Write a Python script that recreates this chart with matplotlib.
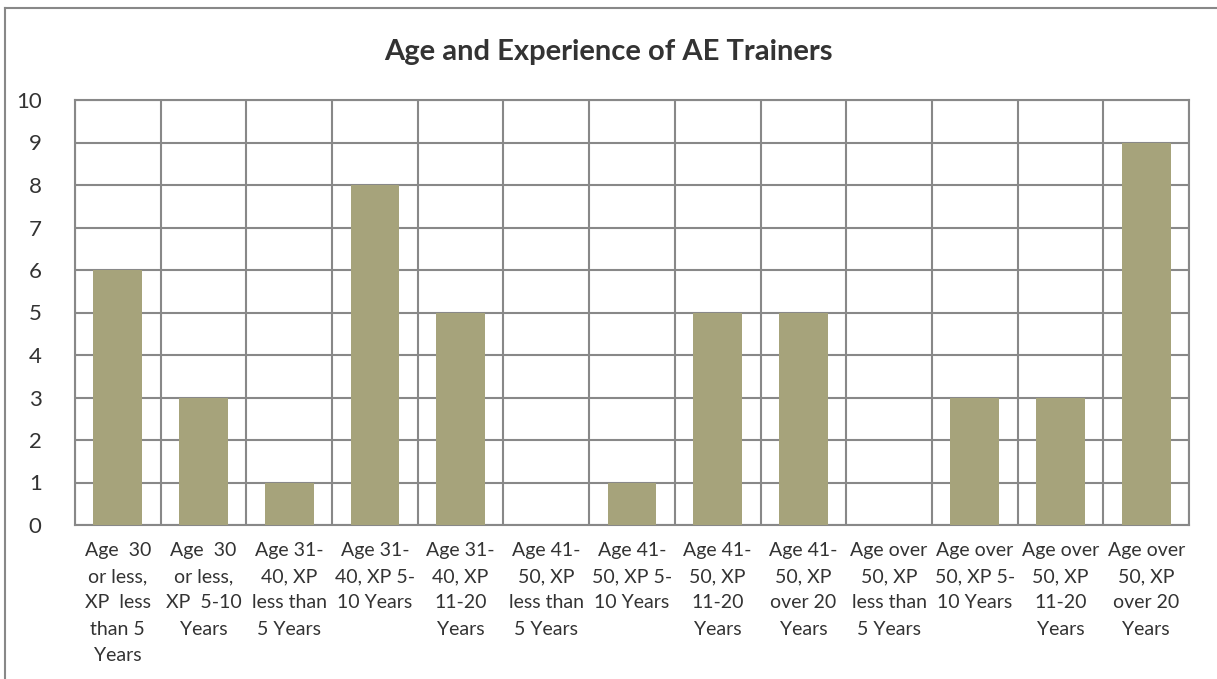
import matplotlib.pyplot as plt
from matplotlib.lines import Line2D

labels = [
    "Age  30\nor less,\nXP  less\nthan 5\nYears",
    "Age  30\nor less,\nXP  5-10\nYears",
    "Age 31-\n40, XP\nless than\n5 Years",
    "Age 31-\n40, XP 5-\n10 Years",
    "Age 31-\n40, XP\n11-20\nYears",
    "Age 41-\n50, XP\nless than\n5 Years",
    "Age 41-\n50, XP 5-\n10 Years",
    "Age 41-\n50, XP\n11-20\nYears",
    "Age 41-\n50, XP\nover 20\nYears",
    "Age over\n50, XP\nless than\n5 Years",
    "Age over\n50, XP 5-\n10 Years",
    "Age over\n50, XP\n11-20\nYears",
    "Age over\n50, XP\nover 20\nYears",
]
counts = [6, 3, 1, 8, 5, 0, 1, 5, 5, 0, 3, 3, 9]

plt.rcParams['font.family'] = ['Lato', 'DejaVu Sans']
text_col = '#333333'
grid_col = '#888888'

fig = plt.figure(figsize=(12.17, 6.79), dpi=100)
ax = fig.add_axes([75 / 1217, 1 - 525 / 679, 1114 / 1217, 425 / 679])

x = list(range(len(counts)))
ax.bar(x, counts, width=0.57, color='#A6A37B', zorder=3)

ax.set_xlim(-0.5, len(counts) - 0.5)
ax.set_ylim(0, 10)
ax.set_yticks(range(0, 11))
ax.set_xticks(x)
ax.set_xticklabels(labels, fontsize=14, color=text_col, linespacing=1.67, va='top')
ax.set_xticks([i - 0.5 for i in range(len(counts) + 1)], minor=True)
ax.tick_params(axis='y', labelsize=16, colors=text_col, length=0, pad=24)
ax.tick_params(axis='x', which='both', length=0, pad=12)
ax.grid(True, axis='y', color=grid_col, linewidth=1.5, zorder=0)
ax.grid(True, axis='x', which='minor', color=grid_col, linewidth=1.5, zorder=0)
ax.grid(False, axis='x', which='major')
for s in ax.spines.values():
    s.set_color(grid_col)
    s.set_linewidth(1.5)

fig.text(0.5, 1 - 52 / 679, 'Age and Experience of AE Trainers', ha='center', va='center',
         fontsize=21, fontweight='bold', color=text_col)

# chart frame (left and top edges visible)
fig.add_artist(Line2D([5 / 1217, 5 / 1217], [0, 1 - 8 / 679], color=grid_col, linewidth=1.5))
fig.add_artist(Line2D([5 / 1217, 1], [1 - 8 / 679, 1 - 8 / 679], color=grid_col, linewidth=1.5))

fig.savefig('out.png', dpi=100)
